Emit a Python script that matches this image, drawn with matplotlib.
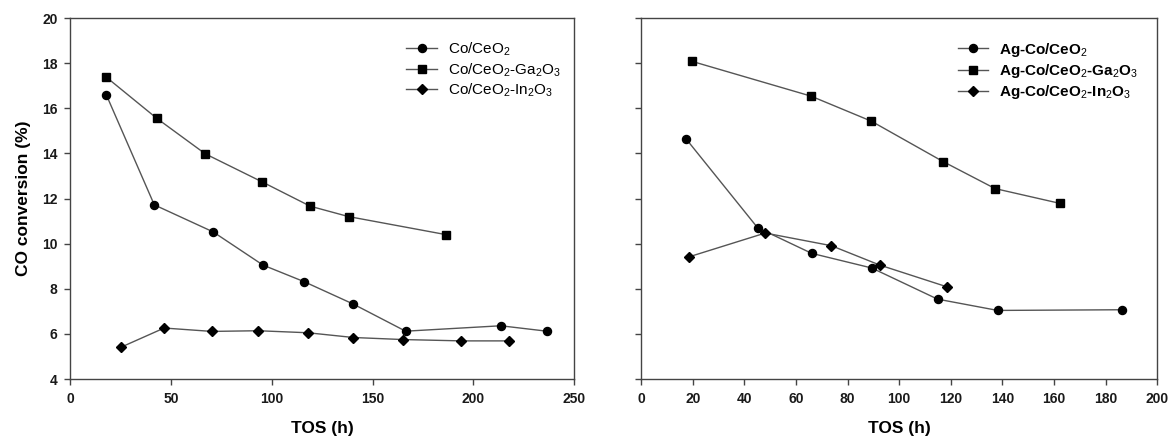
import matplotlib
matplotlib.use("Agg")
import matplotlib.pyplot as plt

plt.rcParams['font.family'] = ['Liberation Sans', 'DejaVu Sans']
plt.rcParams['mathtext.fontset'] = 'custom'
plt.rcParams['mathtext.rm'] = 'Liberation Sans'
plt.rcParams['mathtext.it'] = 'Liberation Sans'
plt.rcParams['mathtext.bf'] = 'Liberation Sans:bold'

# Left panel data
co_x = [18.0, 41.8, 71.0, 95.7, 116.2, 140.5, 166.4, 213.6, 236.4]
co_y = [16.6, 11.72, 10.52, 9.05, 8.31, 7.32, 6.12, 6.36, 6.12]
coga_x = [18.0, 43.1, 67.1, 95.2, 119.1, 138.1, 186.4]
coga_y = [17.38, 15.55, 13.98, 12.74, 11.66, 11.20, 10.40]
coin_x = [25.3, 46.7, 70.3, 93.3, 118.0, 140.5, 164.9, 194.1, 217.8]
coin_y = [5.41, 6.26, 6.11, 6.14, 6.05, 5.84, 5.75, 5.69, 5.69]

# Right panel data
agco_x = [17.5, 45.1, 66.1, 89.4, 114.9, 138.2, 186.3]
agco_y = [14.63, 10.71, 9.57, 8.92, 7.54, 7.04, 7.07]
agcoga_x = [19.7, 65.8, 89.2, 117.0, 137.2, 162.5]
agcoga_y = [18.08, 16.54, 15.43, 13.64, 12.44, 11.78]
agcoin_x = [18.4, 48.1, 73.7, 92.5, 118.7]
agcoin_y = [9.41, 10.47, 9.91, 9.05, 8.08]

left_labels = [r'Co/CeO$_2$', r'Co/CeO$_2$-Ga$_2$O$_3$', r'Co/CeO$_2$-In$_2$O$_3$']
right_labels = [r'Ag-Co/CeO$_2$', r'Ag-Co/CeO$_2$-Ga$_2$O$_3$', r'Ag-Co/CeO$_2$-In$_2$O$_3$']

fig = plt.figure(figsize=(11.7, 4.42), dpi=100)
axL = fig.add_axes([0.0598, 0.1425, 0.431, 0.8167])
axR = fig.add_axes([0.548, 0.1425, 0.441, 0.8167])

lc = '#555555'
spc = '#444444'
markers = ['o', 's', 'D']
msizes = [5.8, 6.3, 5.5]

for ax, xs, ys, labels in [
    (axL, [co_x, coga_x, coin_x], [co_y, coga_y, coin_y], left_labels),
    (axR, [agco_x, agcoga_x, agcoin_x], [agco_y, agcoga_y, agcoin_y], right_labels),
]:
    for x, y, m, ms, lab in zip(xs, ys, markers, msizes, labels):
        ax.plot(x, y, color=lc, lw=1.0, marker=m, ms=ms,
                mfc='black', mec='black', label=lab)
    ax.set_ylim(4, 20)
    ax.set_yticks(range(4, 21, 2))
    ax.tick_params(direction='out', length=4, width=1, labelsize=10,
                   color=spc, labelcolor='#1a1a1a', pad=5)
    for s in ax.spines.values():
        s.set_linewidth(1.0)
        s.set_color(spc)
    ax.set_xlabel('TOS (h)', fontsize=12.5, fontweight='bold', labelpad=11)

axL.set_xlim(0, 250)
axL.set_xticks(range(0, 251, 50))
axR.set_xlim(0, 200)
axR.set_xticks(range(0, 201, 20))
axR.set_yticklabels([])
axL.set_ylabel('CO conversion (%)', fontsize=12.5, fontweight='bold', labelpad=8)
for ax in (axL, axR):
    for lbl in ax.get_xticklabels() + ax.get_yticklabels():
        lbl.set_fontweight('bold')

axL.legend(loc='upper right', bbox_to_anchor=(1.0, 0.975), frameon=False,
           fontsize=11, handlelength=2.0, labelspacing=0.2, handletextpad=0.7)
legR = axR.legend(loc='upper right', bbox_to_anchor=(0.99, 0.975), frameon=False,
           fontsize=11, handlelength=2.0, labelspacing=0.2, handletextpad=0.7)
for t in legR.get_texts():
    t.set_fontweight('bold')

fig.savefig('out.png', dpi=100)
